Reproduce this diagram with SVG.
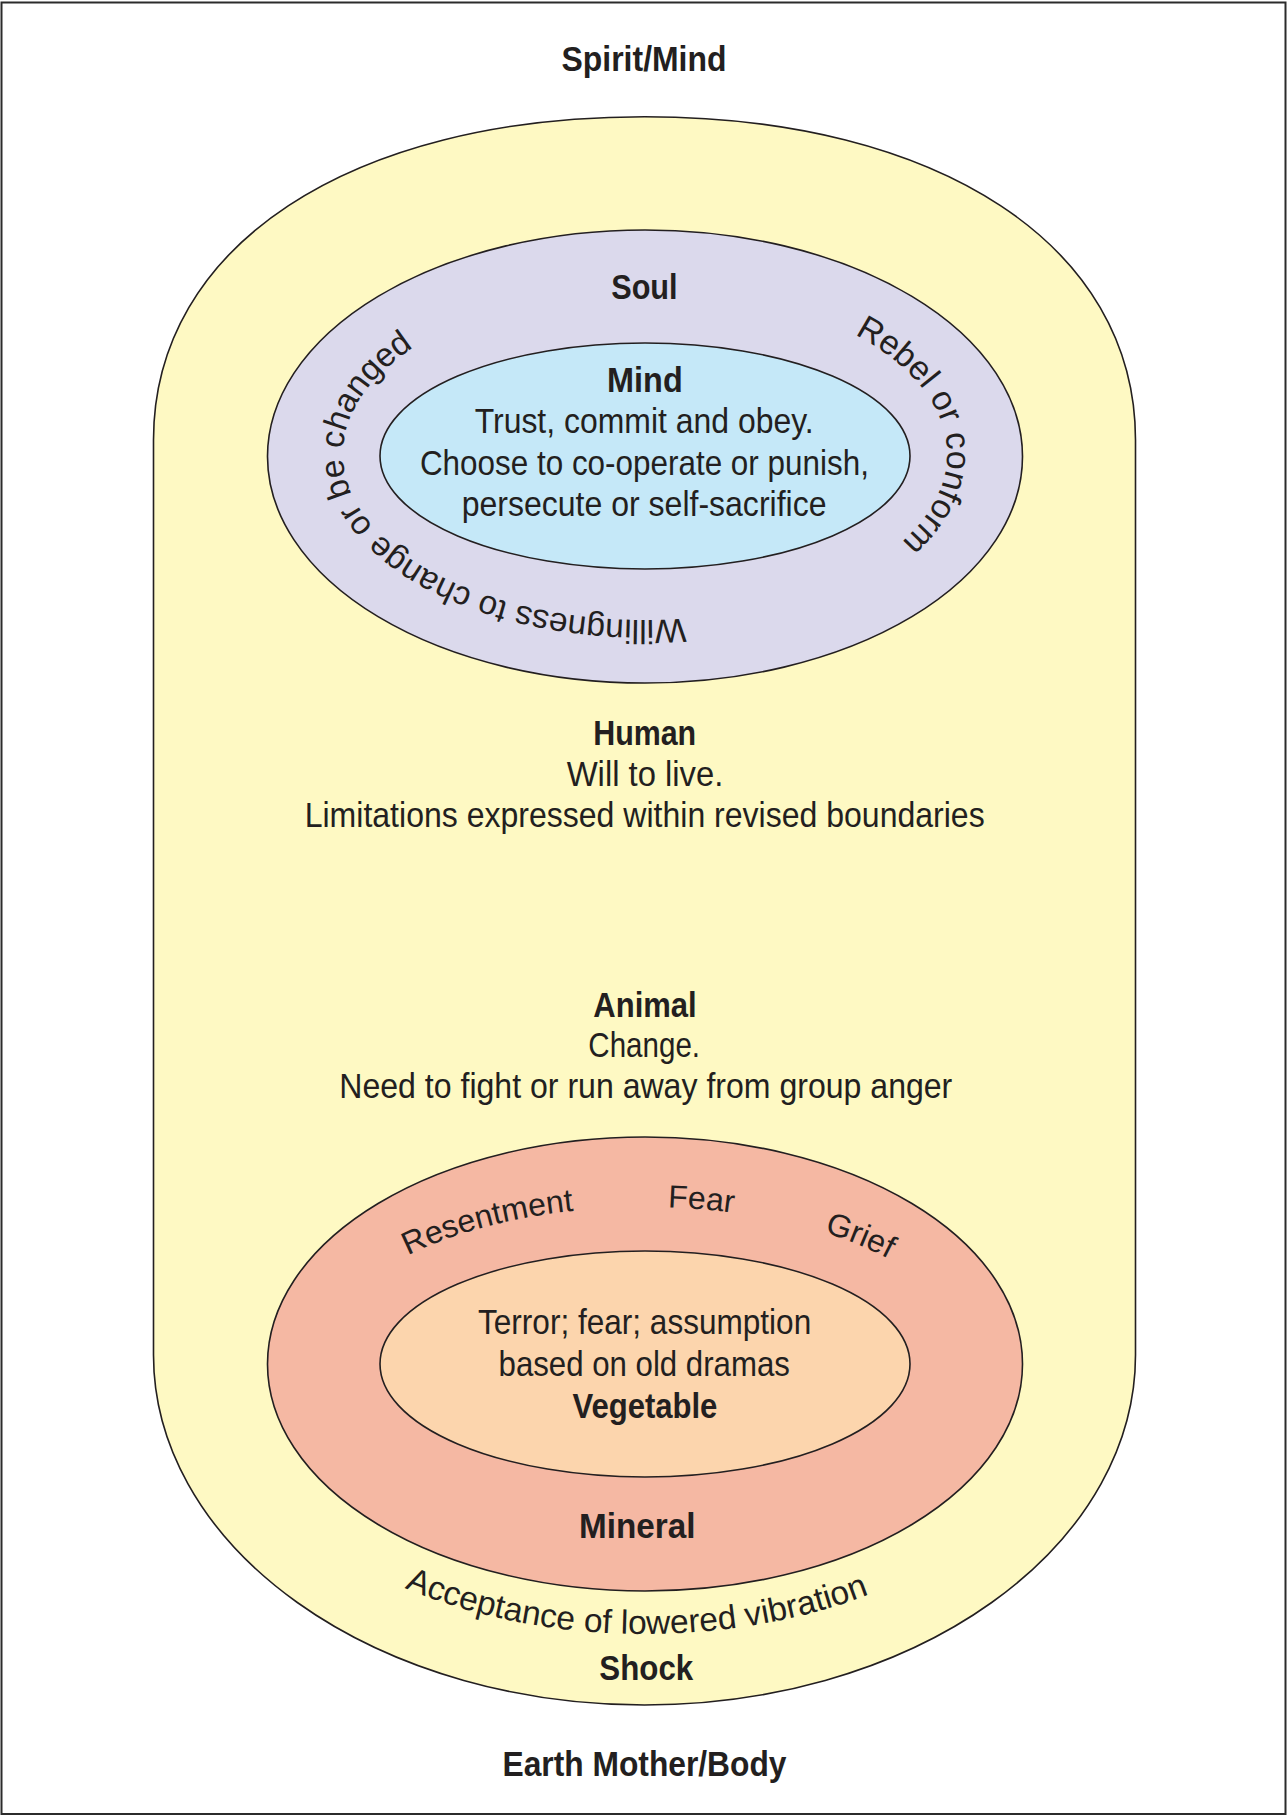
<svg xmlns="http://www.w3.org/2000/svg" width="1287" height="1816" viewBox="0 0 1287 1816">
  <style>
    .ring { stroke: #231f20; stroke-width: 1.6; }
    .t { font-family: "Liberation Sans", Arial, sans-serif; font-size: 35px; fill: #231f20; text-anchor: middle; }
    .b { font-weight: bold; }
    .arc { font-family: "Liberation Sans", Arial, sans-serif; fill: #231f20; text-anchor: middle; }
  </style>
  <defs>
    <!-- baseline for the texts curving round the Soul ring (clockwise, from the top) -->
    <path id="soulArc" d="M 645 288 A 302 166 0 1 1 645 620 A 302 166 0 1 1 645 288"/>
    <!-- baseline for the words across the top of the Mineral ring -->
    <path id="mineralArc" d="M 317 1364 A 328 157 0 0 1 973 1364"/>
    <!-- baseline for the text under the Mineral ring -->
    <path id="shockArc" d="M 215 1364 A 430 270 0 0 0 1075 1364"/>
  </defs>

  <!-- frame -->
  <rect x="1.5" y="2.5" width="1284" height="1811.5" fill="#ffffff" stroke="#2b2b2b" stroke-width="2"/>

  <g id="spirit-mind">
    <text class="t b" x="644" y="71" textLength="165" lengthAdjust="spacingAndGlyphs">Spirit/Mind</text>
  </g>

  <!-- outer capsule: Human / Animal / Shock -->
  <g id="capsule">
    <path class="ring" fill="#fef9c3" d="M 153.5 440 C 153.5 246 349.9 116.7 644.5 116.7 C 939.1 116.7 1135.5 246 1135.5 440 L 1135.5 1355 A 491 350 0 0 1 153.5 1355 Z"/>
  </g>

  <g id="soul">
    <ellipse class="ring" cx="645" cy="456.5" rx="377.5" ry="226.5" fill="#dbd9ec"/>
    <text class="t b" x="644.4" y="299.3" textLength="66.4" lengthAdjust="spacingAndGlyphs">Soul</text>
    <text class="arc" font-size="34"><textPath href="#soulArc" startOffset="347">Rebel or conform</textPath></text>
    <text class="arc" font-size="33.5"><textPath href="#soulArc" startOffset="984.7">Willingness to change or be changed</textPath></text>
  </g>

  <g id="mind">
    <ellipse class="ring" cx="645" cy="456" rx="265" ry="113" fill="#c5e8f8"/>
    <text class="t b" x="644.9" y="392" textLength="75.6" lengthAdjust="spacingAndGlyphs">Mind</text>
    <text class="t" x="644.2" y="433.3" textLength="339" lengthAdjust="spacingAndGlyphs">Trust, commit and obey.</text>
    <text class="t" x="644.4" y="474.5" textLength="449" lengthAdjust="spacingAndGlyphs">Choose to co-operate or punish,</text>
    <text class="t" x="644.1" y="515.5" textLength="364.8" lengthAdjust="spacingAndGlyphs">persecute or self-sacrifice</text>
  </g>

  <g id="human">
    <text class="t b" x="644.7" y="744.5" textLength="103" lengthAdjust="spacingAndGlyphs">Human</text>
    <text class="t" x="645" y="785.5" textLength="156.6" lengthAdjust="spacingAndGlyphs">Will to live.</text>
    <text class="t" x="644.7" y="826.5" textLength="680" lengthAdjust="spacingAndGlyphs">Limitations expressed within revised boundaries</text>
  </g>

  <g id="animal">
    <text class="t b" x="645" y="1016.7" textLength="103.4" lengthAdjust="spacingAndGlyphs">Animal</text>
    <text class="t" x="644.2" y="1057.3" textLength="111.7" lengthAdjust="spacingAndGlyphs">Change.</text>
    <text class="t" x="645.8" y="1098.2" textLength="613" lengthAdjust="spacingAndGlyphs">Need to fight or run away from group anger</text>
  </g>

  <g id="mineral">
    <ellipse class="ring" cx="645" cy="1364" rx="377.5" ry="227" fill="#f5b8a3"/>
    <text class="arc" font-size="32"><textPath href="#mineralArc" startOffset="235">Resentment</textPath></text>
    <text class="arc" font-size="32"><textPath href="#mineralArc" startOffset="448.5">Fear</textPath></text>
    <text class="arc" font-size="32"><textPath href="#mineralArc" startOffset="609">Grief</textPath></text>
    <text class="t b" x="637.2" y="1538.3" textLength="116.4" lengthAdjust="spacingAndGlyphs">Mineral</text>
  </g>

  <g id="vegetable">
    <ellipse class="ring" cx="645" cy="1364" rx="265" ry="113" fill="#fcd5ad"/>
    <text class="t" x="644.6" y="1334" textLength="333.2" lengthAdjust="spacingAndGlyphs">Terror; fear; assumption</text>
    <text class="t" x="644.2" y="1376" textLength="291.3" lengthAdjust="spacingAndGlyphs">based on old dramas</text>
    <text class="t b" x="644.9" y="1417.5" textLength="145" lengthAdjust="spacingAndGlyphs">Vegetable</text>
  </g>

  <g id="shock">
    <text class="arc" font-size="33.5"><textPath href="#shockArc" startOffset="548">Acceptance of lowered vibration</textPath></text>
    <text class="t b" x="646.3" y="1680" textLength="94" lengthAdjust="spacingAndGlyphs">Shock</text>
  </g>

  <g id="earth-mother-body">
    <text class="t b" x="644.5" y="1776" textLength="284" lengthAdjust="spacingAndGlyphs">Earth Mother/Body</text>
  </g>
</svg>
